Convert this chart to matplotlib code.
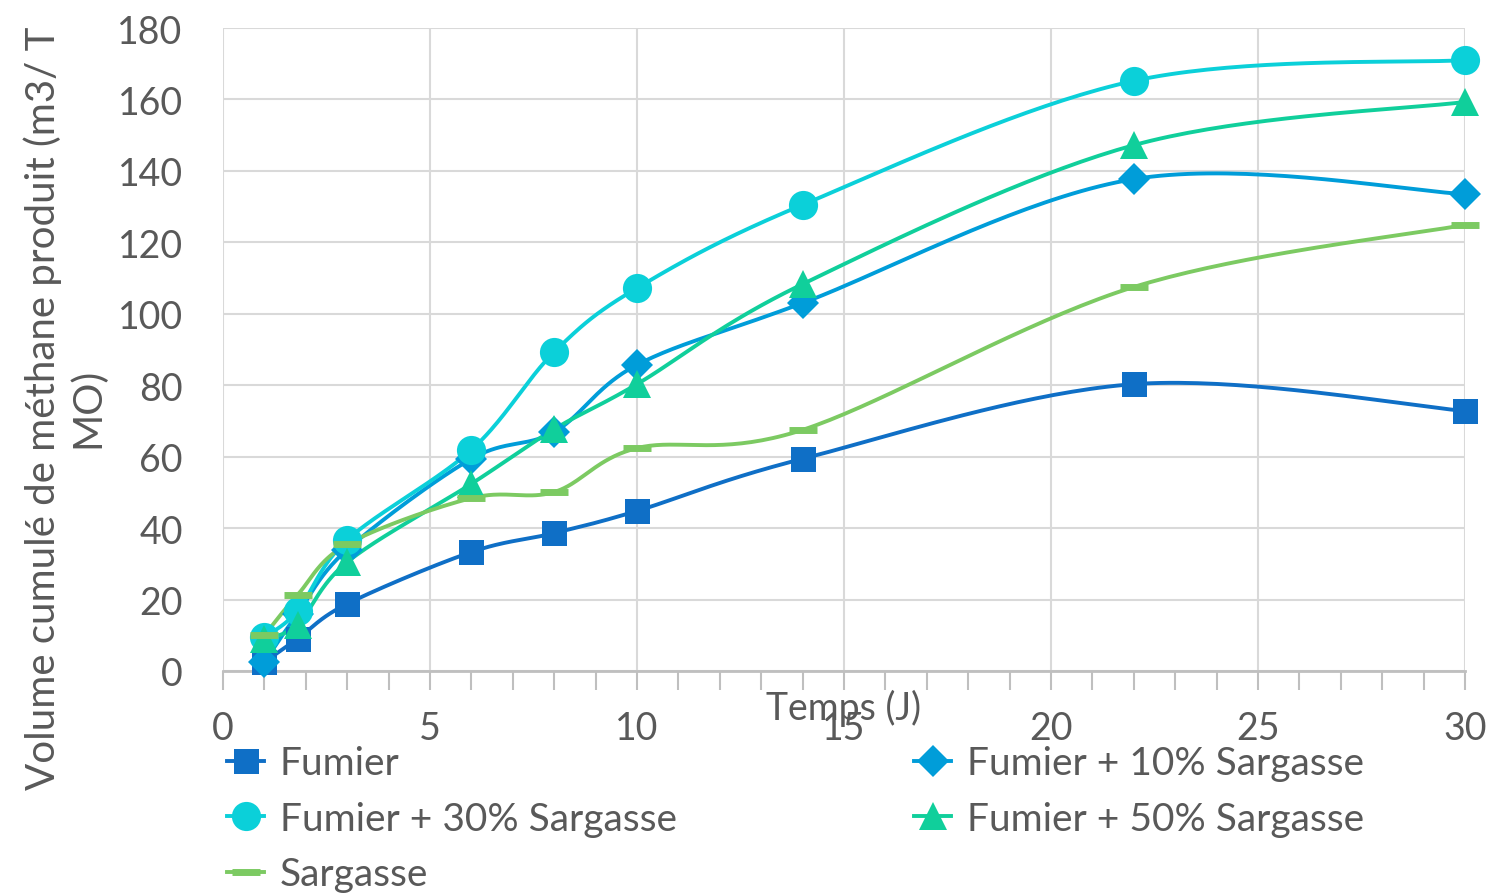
import matplotlib
matplotlib.use("Agg")
import matplotlib.pyplot as plt, numpy as np

plt.rcParams['font.family'] = ['Lato', 'DejaVu Sans']

jours = [1, 1.8, 3, 6, 8, 10, 14, 22, 30]

fumier = [2.5, 9, 18.8, 33.3, 38.6, 44.8, 59.4, 80.3, 72.8]
fumier_10 = [2.5, 16, 34, 59.4, 66.9, 85.7, 103, 137.7, 133.5]
fumier_30 = [9.5, 16.8, 36.7, 61.9, 89.3, 107.2, 130.5, 165.2, 171]
fumier_50 = [9, 13, 30.5, 52.4, 67.7, 80.3, 108.3, 147.2, 159.3]
sargasse = [10, 21.3, 35.5, 48.4, 50.1, 62.4, 67.5, 107.5, 124.9]

noms = ["Fumier", "Fumier + 10% Sargasse", "Fumier + 30% Sargasse",
        "Fumier + 50% Sargasse", "Sargasse"]
couleurs = ["#0F6FC6", "#009DD9", "#0BD0D9", "#10CF9B", "#7CCA62"]
marqueurs = ["s", "D", "o", "^", "_"]
tailles = [18, 16, 21, 20, 20]

gris = "#595959"


def lisse(x, y, n=40):
    '''courbe lissée façon Excel (bezier / catmull-rom)'''
    x = np.asarray(x, float); y = np.asarray(y, float)
    px = np.concatenate(([x[0]], x, [x[-1]]))
    py = np.concatenate(([y[0]], y, [y[-1]]))
    t = np.linspace(0, 1, n)[:, None]
    xs, ys = [], []
    for i in range(1, len(px) - 2):
        p0 = np.array([px[i], py[i]])
        p3 = np.array([px[i + 1], py[i + 1]])
        p1 = p0 + (p3 - np.array([px[i - 1], py[i - 1]])) / 6
        p2 = p3 - (np.array([px[i + 2], py[i + 2]]) - p0) / 6
        b = ((1 - t) ** 3) * p0 + 3 * ((1 - t) ** 2) * t * p1 + 3 * (1 - t) * t ** 2 * p2 + t ** 3 * p3
        xs.append(b[:, 0]); ys.append(b[:, 1])
    return np.concatenate(xs), np.concatenate(ys)


fig = plt.figure(figsize=(14.88, 8.95), dpi=100)
ax = fig.add_axes([223 / 1488, 1 - 672 / 895, (1465 - 223) / 1488, (672 - 29) / 895])

series = [fumier, fumier_10, fumier_30, fumier_50, sargasse]
poignees = []
for vals, nom, c, m, s in zip(series, noms, couleurs, marqueurs, tailles):
    xs, ys = lisse(jours, vals)
    ax.plot(xs, ys, color=c, lw=2.8, zorder=3)
    mew = 5 if m == "_" else 0
    ax.plot(jours, vals, ls="none", marker=m, ms=s, color=c, mec=c, mew=mew, zorder=4,
            clip_on=False)
    h, = ax.plot([], [], color=c, lw=2.8, marker=m, ms=s, mec=c, mew=mew)
    poignees.append(h)

ax.set_xlim(0, 30)
ax.set_ylim(0, 180)
ax.set_xticks(range(0, 31, 5))
ax.set_xticks(range(0, 31), minor=True)
ax.set_yticks(range(0, 181, 20))
ax.grid(True, color="#d9d9d9", lw=1.5)
ax.set_axisbelow(True)
for cote in ["left", "right", "top"]:
    ax.spines[cote].set_visible(False)
ax.spines["bottom"].set_color("#bfbfbf")
ax.spines["bottom"].set_linewidth(2)
ax.tick_params(axis="x", which="both", direction="out", length=14, width=1.5,
               color="#bfbfbf", labelsize=27, labelcolor=gris, pad=14)
ax.tick_params(axis="y", length=0, labelsize=27, labelcolor=gris, pad=29)

ax.set_xlabel("Temps (J)", fontsize=27, color=gris)
ax.xaxis.set_label_coords(0.5, -0.028)

fig.text(65 / 1488, 1 - 408 / 895, "Volume cumulé de méthane produit (m3/ T\nMO)",
         rotation=90, ha="center", va="center", ma="center", fontsize=29,
         color=gris, linespacing=1.2)

ordre = [0, 2, 4, 1, 3]
leg = fig.legend([poignees[i] for i in ordre], [noms[i] for i in ordre], ncol=2,
                 loc="upper left", bbox_to_anchor=(208 / 1488, 1 - 727 / 895),
                 frameon=False, fontsize=28, labelcolor=gris, handlelength=0.95,
                 handletextpad=0.4, columnspacing=6.1, labelspacing=0.5, borderpad=0)

fig.savefig("out.png", dpi=100)
